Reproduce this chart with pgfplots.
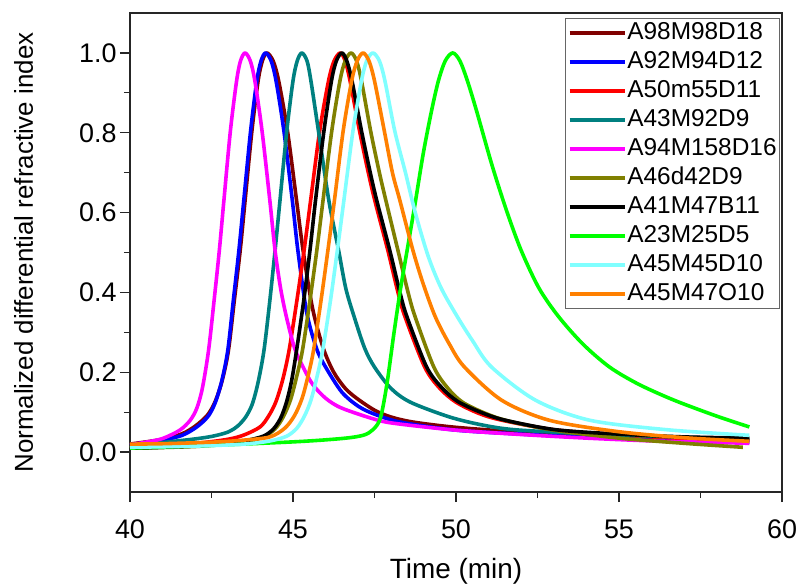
\documentclass[border=0pt]{standalone}
\usepackage{pgfplots}
\pgfplotsset{compat=1.18}
\usepackage{fontspec}
\setmainfont{Liberation Sans}
\definecolor{cdred}{RGB}{128,0,0}
\definecolor{cblue}{RGB}{0,0,255}
\definecolor{cred}{RGB}{255,0,0}
\definecolor{cteal}{RGB}{0,128,128}
\definecolor{cmag}{RGB}{255,0,255}
\definecolor{coli}{RGB}{128,128,0}
\definecolor{cblk}{RGB}{0,0,0}
\definecolor{cgrn}{RGB}{0,255,0}
\definecolor{ccyan}{RGB}{128,255,255}
\definecolor{corg}{RGB}{255,128,0}
\begin{document}
\begin{tikzpicture}
\begin{axis}[
  scale only axis,
  width=652bp, height=479bp,
  xmin=40, xmax=60, ymin=-0.1, ymax=1.1,
  xtick={40,45,50,55,60},
  ytick={0,0.2,0.4,0.6,0.8,1.0},
  minor x tick num=1, minor y tick num=1,
  xtick pos=bottom, ytick pos=left,
  tick align=outside,
  major tick length=10bp, minor tick length=6bp,
  axis line style={line width=1.3bp, black!85},
  every tick/.style={line width=1.3bp, black!85},
  /pgf/number format/assume math mode=true,
  yticklabel style={/pgf/number format/.cd, fixed, fixed zerofill, precision=1},
  ticklabel style={font=\fontsize{27}{30}\selectfont},
  xticklabel style={yshift=-14bp},
  ylabel style={font=\fontsize{26}{30}\selectfont, yshift=39bp},
  xlabel style={font=\fontsize{28}{30}\selectfont, yshift=-13bp},
  xlabel={Time (min)},
  ylabel={Normalized differential refractive index},
  every axis plot/.append style={line width=3.6bp, smooth, tension=0.5, line join=round},
  legend cell align=left,
  legend style={at={(rel axis cs:1,1)}, xshift=-2bp, yshift=-5bp, anchor=north east,
    font=\fontsize{24.5}{26}\selectfont, draw=black!60, line width=0.8bp,
    inner xsep=2bp, inner ysep=2bp, row sep=4bp,
    nodes={inner sep=1bp, text height=18bp, text depth=5bp}},
  legend image code/.code={\draw[#1, line width=3.6bp] (0bp,0bp) -- (55bp,0bp);},
]
\addplot[cdred] coordinates {(40,0.020) (41,0.032) (41.6,0.046) (42.0,0.065) (42.38,0.093) (42.62,0.128) (42.83,0.18) (43.02,0.255) (43.2,0.38) (43.38,0.505) (43.53,0.63) (43.74,0.805) (43.93,0.93) (44.06,0.98) (44.2,1.0) (44.39,0.98) (44.56,0.93) (44.83,0.805) (45.11,0.63) (45.31,0.505) (45.6,0.36) (45.93,0.26) (46.25,0.2) (46.6,0.16) (46.95,0.135) (47.5,0.105) (48.0,0.088) (48.7,0.075) (50,0.062) (52,0.05) (54,0.043) (56,0.037) (58,0.032) (59,0.030)};
\addlegendentry{A98M98D18}
\addplot[cblue] coordinates {(40,0.018) (41,0.03) (41.6,0.042) (42.05,0.063) (42.4,0.09) (42.62,0.125) (42.82,0.18) (43.0,0.255) (43.17,0.38) (43.34,0.505) (43.49,0.63) (43.7,0.805) (43.89,0.93) (44.02,0.98) (44.16,1.0) (44.33,0.98) (44.48,0.93) (44.72,0.805) (44.98,0.63) (45.15,0.505) (45.42,0.35) (45.72,0.26) (46.0,0.213) (46.5,0.15) (47.0,0.115) (47.5,0.095) (48.3,0.075) (50,0.055) (52,0.045) (54,0.037) (56,0.031) (58,0.026) (59,0.025)};
\addlegendentry{A92M94D12}
\addplot[cred] coordinates {(40,0.012) (41,0.015) (42.05,0.022) (43,0.032) (43.5,0.043) (43.99,0.063) (44.25,0.09) (44.47,0.125) (44.68,0.18) (44.88,0.255) (45.12,0.38) (45.34,0.505) (45.54,0.63) (45.82,0.805) (46.09,0.93) (46.26,0.98) (46.45,1.0) (46.6,0.98) (46.75,0.93) (47.04,0.805) (47.31,0.7) (47.51,0.63) (47.91,0.505) (48.22,0.4) (48.44,0.338) (49.04,0.213) (49.5,0.16) (50.0,0.125) (50.7,0.097) (51.4,0.08) (53,0.056) (55,0.043) (57,0.034) (59,0.029)};
\addlegendentry{A50m55D11}
\addplot[cteal] coordinates {(40,0.017) (41,0.024) (42,0.033) (42.55,0.04) (43.0,0.05) (43.3,0.065) (43.55,0.088) (43.75,0.12) (43.93,0.175) (44.11,0.255) (44.29,0.38) (44.45,0.505) (44.6,0.63) (44.81,0.805) (45.0,0.93) (45.13,0.98) (45.27,1.0) (45.43,0.98) (45.55,0.93) (45.78,0.805) (46.1,0.63) (46.4,0.505) (46.62,0.41) (46.88,0.338) (47.2,0.26) (47.5,0.213) (48.0,0.16) (48.6,0.125) (49.8,0.088) (50.8,0.068) (51.8,0.056) (54,0.046) (56,0.04) (58,0.035) (59,0.033)};
\addlegendentry{A43M92D9}
\addplot[cmag] coordinates {(40,0.018) (40.5,0.025) (41,0.034) (41.53,0.055) (41.85,0.08) (42.05,0.11) (42.22,0.16) (42.41,0.255) (42.58,0.38) (42.74,0.505) (42.88,0.63) (43.08,0.805) (43.27,0.93) (43.39,0.98) (43.53,1.0) (43.69,0.98) (43.83,0.93) (44.05,0.805) (44.29,0.63) (44.45,0.505) (44.62,0.41) (44.8,0.338) (45.05,0.26) (45.31,0.213) (45.6,0.17) (46.0,0.135) (46.5,0.11) (47.6,0.08) (48.3,0.07) (50,0.055) (52,0.044) (54,0.035) (56,0.028) (58,0.024) (59,0.022)};
\addlegendentry{A94M158D16}
\addplot[coli] coordinates {(40,0.010) (42,0.014) (43.5,0.025) (44.09,0.038) (44.45,0.058) (44.7,0.088) (44.92,0.13) (45.1,0.185) (45.29,0.255) (45.52,0.38) (45.73,0.505) (45.92,0.63) (46.19,0.805) (46.44,0.93) (46.6,0.98) (46.78,1.0) (46.95,0.98) (47.1,0.93) (47.38,0.805) (47.65,0.7) (47.85,0.63) (48.22,0.505) (48.53,0.4) (48.75,0.338) (49.32,0.213) (49.75,0.16) (50.2,0.125) (50.9,0.097) (51.6,0.078) (53,0.055) (55,0.035) (57,0.022) (58.8,0.012)};
\addlegendentry{A46d42D9}
\addplot[cblk] coordinates {(40,0.010) (41,0.012) (42.55,0.018) (43.5,0.028) (44.09,0.04) (44.4,0.058) (44.62,0.085) (44.8,0.125) (44.96,0.18) (45.11,0.255) (45.33,0.38) (45.52,0.505) (45.69,0.63) (45.95,0.805) (46.18,0.93) (46.33,0.98) (46.5,1.0) (46.65,0.98) (46.81,0.93) (47.1,0.805) (47.37,0.7) (47.57,0.63) (47.97,0.505) (48.28,0.4) (48.5,0.338) (49.1,0.213) (49.58,0.16) (50.05,0.127) (50.75,0.1) (51.5,0.08) (53.06,0.056) (55,0.045) (57,0.038) (59,0.035)};
\addlegendentry{A41M47B11}
\addplot[cgrn] coordinates {(40,0.010) (42.55,0.017) (45.1,0.026) (46.5,0.034) (47.15,0.042) (47.45,0.056) (47.68,0.085) (47.88,0.17) (48.1,0.3) (48.3,0.41) (48.5,0.505) (48.74,0.62) (49.0,0.75) (49.25,0.855) (49.46,0.93) (49.67,0.98) (49.9,1.0) (50.12,0.98) (50.35,0.93) (50.63,0.855) (51.1,0.72) (51.55,0.605) (52.0,0.505) (52.55,0.41) (53.16,0.338) (53.9,0.27) (54.71,0.213) (55.6,0.17) (56.69,0.13) (58,0.09) (59,0.063)};
\addlegendentry{A23M25D5}
\addplot[ccyan] coordinates {(40,0.012) (42,0.015) (43.5,0.02) (44.3,0.028) (44.81,0.04) (45.12,0.06) (45.35,0.09) (45.55,0.13) (45.74,0.19) (45.91,0.255) (46.15,0.38) (46.36,0.505) (46.56,0.63) (46.84,0.805) (47.1,0.93) (47.26,0.98) (47.45,1.0) (47.65,0.98) (47.82,0.93) (48.12,0.805) (48.45,0.7) (48.75,0.6) (49.15,0.49) (49.55,0.41) (50.05,0.338) (50.5,0.28) (51.09,0.213) (52.44,0.13) (54.09,0.08) (56.47,0.056) (59,0.042)};
\addlegendentry{A45M45D10}
\addplot[corg] coordinates {(40,0.020) (41,0.021) (42.55,0.025) (43.5,0.03) (44.29,0.038) (44.75,0.06) (45.05,0.092) (45.28,0.135) (45.46,0.19) (45.63,0.255) (45.86,0.38) (46.07,0.505) (46.27,0.63) (46.54,0.805) (46.8,0.93) (46.97,0.98) (47.15,1.0) (47.33,0.98) (47.5,0.93) (47.8,0.805) (48.05,0.7) (48.28,0.63) (48.68,0.505) (49.0,0.42) (49.37,0.338) (49.8,0.27) (50.26,0.213) (51.4,0.13) (52.85,0.08) (54.9,0.052) (57,0.036) (59,0.027)};
\addlegendentry{A45M47O10}
\end{axis}
\pgfresetboundingbox
\path[use as bounding box] ([xshift=-130bp,yshift=-92bp]current axis.south west) rectangle ([xshift=17bp,yshift=13bp]current axis.north east);
\end{tikzpicture}
\end{document}
